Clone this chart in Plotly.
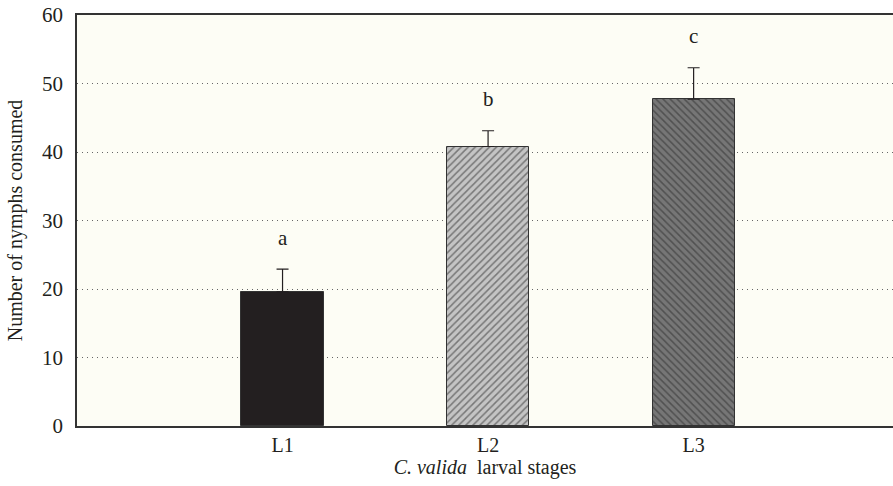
import plotly.graph_objects as go

stages = ["L1", "L2", "L3"]
means = [19.6, 40.8, 47.7]
errors = [3.3, 2.3, 4.6]
letters = ["a", "b", "c"]
y_ticks = [0, 10, 20, 30, 40, 50, 60]

xpos = [1, 2, 3]
fills = ["#231f20", "#c4c4c4", "#767676"]
shapes = ["", "/", "\\"]

FONT = "Liberation Serif, Times New Roman, serif"

fig = go.Figure()
for i in range(3):
    fig.add_trace(go.Bar(
        x=[xpos[i]], y=[means[i]], width=0.4,
        marker=dict(
            color=fills[i],
            line=dict(color="#333333", width=1),
            pattern=dict(shape=shapes[i], fgcolor="#2a2a2a", fillmode="overlay",
                         size=5, solidity=0.3),
        ),
        error_y=dict(type="data", symmetric=False, array=[errors[i]], arrayminus=[0],
                     color="#231f20", thickness=1.2, width=6),
        showlegend=False,
    ))

for i in range(3):
    fig.add_annotation(x=xpos[i], y=means[i] + errors[i] + 4.6, text=letters[i],
                       showarrow=False, font=dict(family=FONT, size=21, color="#231f20"))

fig.update_layout(
    width=893, height=486,
    margin=dict(l=77, r=0, t=15, b=60),
    paper_bgcolor="white",
    plot_bgcolor="#fdfdf5",
    font=dict(family=FONT, size=21, color="#231f20"),
    bargap=0,
)
fig.update_xaxes(
    range=[0, 3.97], tickvals=xpos, ticktext=stages,
    showline=True, linecolor="#333333", linewidth=1.5, mirror=True,
    showgrid=False, ticks="", zeroline=False,
    tickfont=dict(size=20),
    title=dict(text="<i>C. valida</i>  larval stages", font=dict(size=20), standoff=2),
)
fig.update_yaxes(
    range=[0, 60], tickvals=y_ticks,
    showline=True, linecolor="#333333", linewidth=1.5,
    showgrid=True, gridcolor="#666666", griddash="1px,4px", gridwidth=1,
    ticks="", zeroline=False, tickfont=dict(size=21), ticklabelstandoff=8,
    title=dict(text="Number of nymphs consumed", font=dict(size=20), standoff=14),
)

fig.write_html("out.html")
